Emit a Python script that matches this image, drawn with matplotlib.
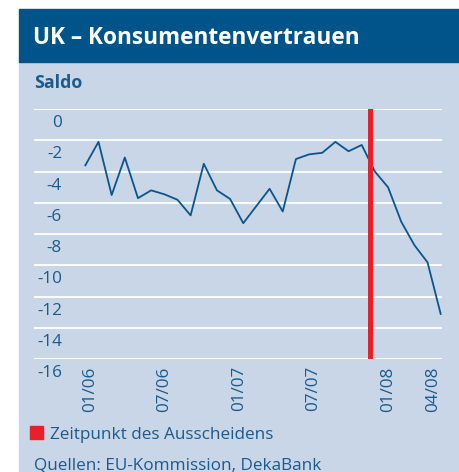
import matplotlib
matplotlib.use("Agg")
import matplotlib.pyplot as plt
from matplotlib.patches import Rectangle
from matplotlib.transforms import ScaledTranslation

plt.rcParams['font.family'] = ['Open Sans', 'DejaVu Sans']
plt.rcParams['axes.unicode_minus'] = False

# monthly balance, 01/2006 .. 04/2008
saldo = [-3.6, -2.1, -5.5, -3.1, -5.7, -5.2, -5.45, -5.8, -6.8, -3.5, -5.2, -5.75,
         -7.3, -6.2, -5.1, -6.55, -3.2, -2.9, -2.8, -2.1, -2.7, -2.3, -4.0, -5.0,
         -7.2, -8.7, -9.8, -13.1]
months = list(range(len(saldo)))
y_ticks = [0, -2, -4, -6, -8, -10, -12, -14, -16]
x_tick_labels = ['01/06', '07/06', '01/07', '07/07', '01/08', '04/08']
x_tick_pos = [0.35, 5.95, 11.65, 17.3, 23.0, 26.4]
exit_month = 21.6

dark = '#00548a'
panel = '#c9d6e7'
txt = '#1a5a8d'
line_c = '#0b5589'
red = '#e8202a'

W, H = 459, 472
fig = plt.figure(figsize=(W / 100, H / 100), dpi=100)
fig.patch.set_facecolor('white')


def box(x, y, w, h, color):
    # rectangle given in pixels from the top left corner
    r = Rectangle((x / W, 1 - (y + h) / H), w / W, h / H,
                  transform=fig.transFigure, color=color, zorder=-10)
    fig.patches.append(r)


box(19, 62, 440, 410, panel)
box(19, 9, 440, 53, dark)

fig.text(33 / W, 1 - 44 / H, 'UK – Konsumentenvertrauen', color='white',
         fontsize=16.3, fontweight='bold', va='baseline')
fig.text(34 / W, 1 - 88 / H, 'Saldo', color=txt, fontsize=12.8, fontweight='bold',
         va='baseline')

ax = fig.add_axes([34 / W, 1 - 359.3 / H, 408 / W, 250.3 / H])
ax.set_facecolor('none')
ax.plot(months, saldo, color=line_c, lw=1.3, zorder=3)
ax.axvline(exit_month, ymin=0.005, ymax=0.992, color=red, lw=3.6, zorder=4)

ax.set_xlim(-3.9, 27.1)
ax.set_ylim(-16, 0)
ax.set_yticks(y_ticks)
ax.set_yticklabels([str(v) for v in y_ticks])
ax.set_xticks(x_tick_pos)
ax.set_xticklabels(x_tick_labels, rotation=90)
ax.grid(axis='y', color='white', lw=1.3, zorder=1)
ax.tick_params(axis='both', length=0, colors=txt, labelsize=12.3)
ax.tick_params(axis='y', pad=0)
ax.tick_params(axis='x', pad=5)
for s in ax.spines.values():
    s.set_visible(False)
shift = ScaledTranslation(0.28, -0.12, fig.dpi_scale_trans)
for lab in ax.get_yticklabels():
    lab.set_transform(lab.get_transform() + shift)

box(30, 426, 13, 13, red)
fig.text(50 / W, 1 - 439 / H, 'Zeitpunkt des Ausscheidens', color=txt,
         fontsize=12.3, va='baseline')
fig.text(34 / W, 1 - 469 / H, 'Quellen: EU-Kommission, DekaBank', color=txt,
         fontsize=12.3, va='baseline')

fig.savefig('out.png', dpi=100)
